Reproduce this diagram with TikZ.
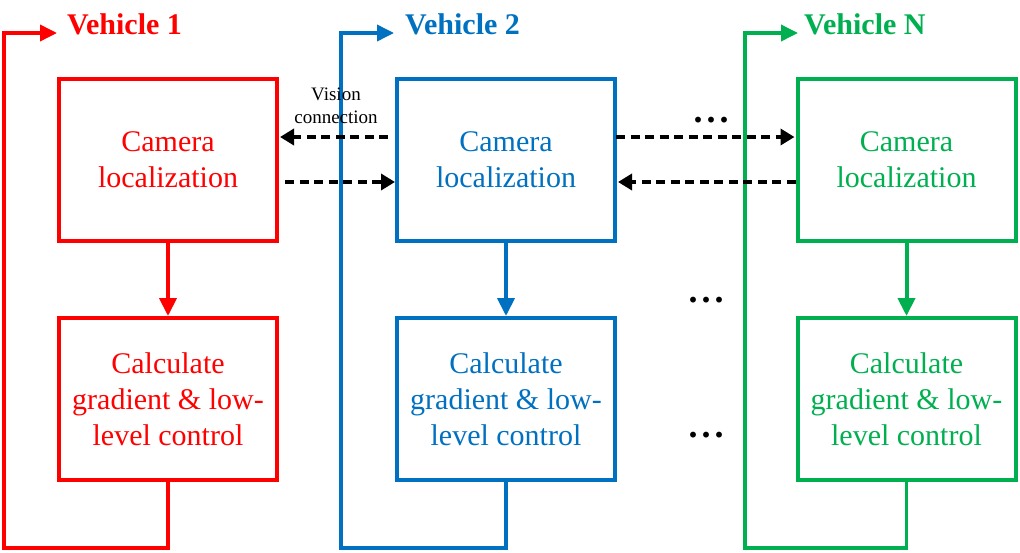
\documentclass[tikz,border=0pt]{standalone}
\usepackage{fontspec}
\setmainfont{Liberation Serif}
\usetikzlibrary{arrows.meta}
\definecolor{vred}{RGB}{255,0,0}
\definecolor{vblue}{RGB}{0,112,192}
\definecolor{vgreen}{RGB}{0,176,80}
\tikzset{
  blk/.style={draw, line width=4pt, minimum width=218pt, minimum height=162pt,
    align=center, inner sep=0pt, font=\fontsize{30}{36}\selectfont},
  flow/.style={line width=4pt, -{Triangle[length=18pt,width=17pt]}},
  loopline/.style={line width=3.6pt, -{Triangle[length=17pt,width=16pt]}},
  title/.style={anchor=base west, inner sep=0pt, font=\fontsize{30}{34}\selectfont\bfseries},
  vis/.style={line width=4.6pt, dash pattern=on 9pt off 5.5pt, -{Triangle[length=14pt,width=16pt]}},
  dotsnode/.style={anchor=base, inner sep=0pt, font=\fontsize{36}{36}\selectfont\bfseries},
}
\begin{document}
\begin{tikzpicture}[x=1pt,y=-1pt]
\useasboundingbox (0,0) rectangle (1020,552);
% boxes
\node[blk, vred]   (rcam)  at (168,159.5) {Camera\\localization};
\node[blk, vred]   (rcalc) at (168,399)   {Calculate\\gradient \& low-\\level control};
\node[blk, vblue]  (bcam)  at (506,159.5) {Camera\\localization};
\node[blk, vblue]  (bcalc) at (506,399)   {Calculate\\gradient \& low-\\level control};
\node[blk, vgreen] (gcam)  at (906.5,159.5) {Camera\\localization};
\node[blk, vgreen] (gcalc) at (906.5,399)   {Calculate\\gradient \& low-\\level control};
% titles
\node[title, vred]   (rtitle) at (67,34)  {Vehicle 1};
\node[title, vblue]  (btitle) at (405,34) {Vehicle 2};
\node[title, vgreen] (gtitle) at (804,34) {Vehicle N};
% loop corners
\coordinate (rbl) at (4,548);   \coordinate (rtip) at (57,33);
\coordinate (bbl) at (341,548); \coordinate (btip) at (394,33);
\coordinate (gbl) at (745,548); \coordinate (gtip) at (798,33);
% loops
\draw[loopline, vred]   (rcalc.south) |- (rbl) |- (rtip);
\draw[loopline, vblue]  (bcalc.south) |- (bbl) |- (btip);
\draw[loopline, vgreen] (gcalc.south) |- (gbl) |- (gtip);
% vertical arrows
\draw[flow, vred]   (rcam.south) -- (rcalc.north);
\draw[flow, vblue]  (bcam.south) -- (bcalc.north);
\draw[flow, vgreen] (gcam.south) -- (gcalc.north);
% vision connections
\draw[vis] ([xshift=-7pt,yshift=22.5pt]bcam.west) -- ([xshift=1pt,yshift=22.5pt]rcam.east);
\draw[vis] ([xshift=6pt,yshift=-22.5pt]rcam.east) -- ([yshift=-22.5pt]bcam.west);
\draw[vis] ([xshift=-1pt,yshift=22.5pt]bcam.east) -- ([xshift=-1pt,yshift=22.5pt]gcam.west);
\draw[vis] ([yshift=-22.5pt]gcam.west) -- ([xshift=1pt,yshift=-22.5pt]bcam.east);
\node[inner sep=0pt, align=center, font=\fontsize{19}{23}\selectfont] (vislabel) at (336,106) {Vision\\connection};
% dots
\node[dotsnode] (dots1) at (711,122) {.\hspace{4pt}.\hspace{4pt}.};
\node[dotsnode] (dots2) at (706,302) {.\hspace{4pt}.\hspace{4pt}.};
\node[dotsnode] (dots3) at (706,437) {.\hspace{4pt}.\hspace{4pt}.};
\end{tikzpicture}
\end{document}
